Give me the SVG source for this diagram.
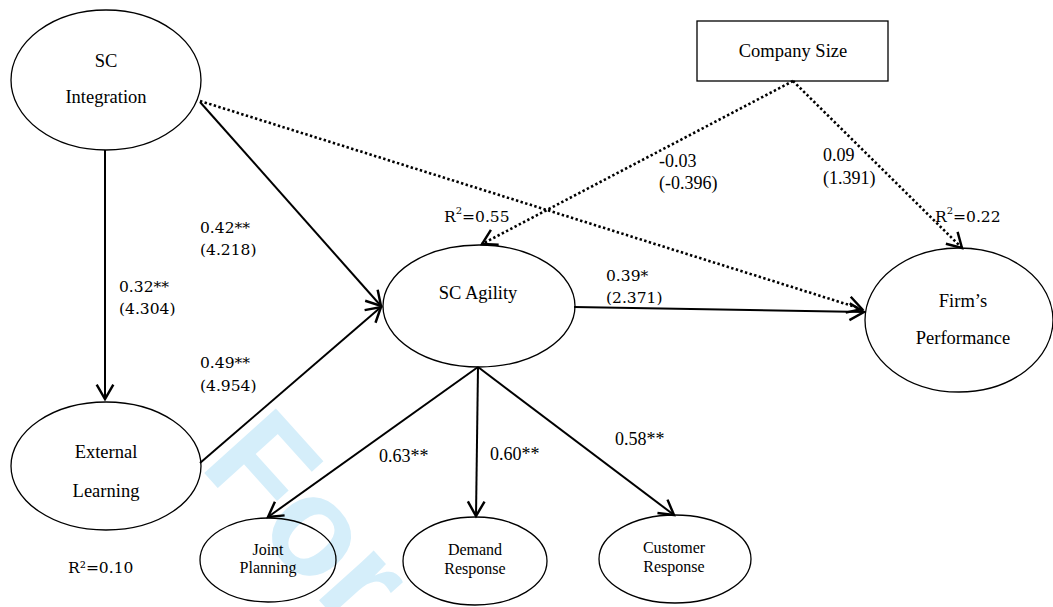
<svg xmlns="http://www.w3.org/2000/svg" width="1053" height="607" viewBox="0 0 1053 607">
<defs>
<style>
.node{fill:none;stroke:#000;stroke-width:1.3}
.t{font-family:"Liberation Serif","Times New Roman",serif;font-size:18.5px;fill:#000;text-anchor:middle}
.ts{font-family:"Liberation Serif","Times New Roman",serif;font-size:16px;fill:#000;text-anchor:middle}
.lt{font-family:"Liberation Serif","Times New Roman",serif;font-size:18px;fill:#000}
.lc{font-family:"DejaVu Serif",serif;font-size:15.5px;fill:#000}
.solid{fill:none;stroke:#000;stroke-width:2}
.dot{fill:none;stroke:#000;stroke-width:2.6;stroke-dasharray:2.4 2.4}
.wm{font-family:"Liberation Sans",Arial,sans-serif;font-weight:bold;font-size:140px;fill:#d5eefa}
</style>
<marker id="arr" markerUnits="userSpaceOnUse" markerWidth="20" markerHeight="20" viewBox="-14 -9 16 18" refX="0" refY="0" orient="auto">
<path d="M-13,-7.5 L0,0 L-13,7.5" fill="none" stroke="#000" stroke-width="2.2"/>
</marker>
</defs>
<rect width="1053" height="607" fill="#fff"/>
<text class="wm" transform="translate(198,466) rotate(48)">For</text>
<g id="connectors">
<line class="solid" x1="105" y1="150" x2="105" y2="399" marker-end="url(#arr)"/>
<line class="solid" x1="200" y1="102" x2="381" y2="306" marker-end="url(#arr)"/>
<line class="solid" x1="200" y1="463" x2="381" y2="307" marker-end="url(#arr)"/>
<line class="dot" x1="200" y1="101" x2="862" y2="309" marker-end="url(#arr)"/>
<line class="solid" x1="574" y1="307" x2="864" y2="312" marker-end="url(#arr)"/>
<line class="dot" x1="793" y1="81" x2="482" y2="244" marker-end="url(#arr)"/>
<line class="dot" x1="793" y1="81" x2="962" y2="248" marker-end="url(#arr)"/>
<line class="solid" x1="478" y1="367" x2="268" y2="517" marker-end="url(#arr)"/>
<line class="solid" x1="478" y1="367" x2="476" y2="516" marker-end="url(#arr)"/>
<line class="solid" x1="478" y1="367" x2="674" y2="515" marker-end="url(#arr)"/>
</g>
<g id="labels">
<text class="lc" x="200" y="233">0.42**</text>
<text class="lc" x="200" y="255">(4.218)</text>
<text class="lc" x="119" y="292">0.32**</text>
<text class="lc" x="119" y="314">(4.304)</text>
<text class="lc" x="200" y="368">0.49**</text>
<text class="lc" x="200" y="391">(4.954)</text>
<text class="lc" x="606" y="281">0.39*</text>
<text class="lc" x="606" y="303">(2.371)</text>
<text class="lt" x="659" y="167">-0.03</text>
<text class="lt" x="659" y="189">(-0.396)</text>
<text class="lt" x="823" y="161">0.09</text>
<text class="lt" x="823" y="184">(1.391)</text>
<text class="lc" x="444" y="222">R<tspan font-size="10" dy="-8">2</tspan><tspan dy="8">=0.55</tspan></text>
<text class="lc" x="935" y="222">R<tspan font-size="10" dy="-8">2</tspan><tspan dy="8">=0.22</tspan></text>
<text class="lc" x="68" y="573">R²=0.10</text>
<text class="lt" x="379" y="462">0.63**</text>
<text class="lt" x="490" y="460">0.60**</text>
<text class="lt" x="615" y="445">0.58**</text>
</g>
<g id="sc-integration">
<ellipse class="node" cx="106" cy="80" rx="95" ry="70"/>
<text class="t" x="106" y="67">SC</text>
<text class="t" x="106" y="103">Integration</text>
</g>
<g id="external-learning">
<ellipse class="node" cx="106" cy="466" rx="95" ry="64"/>
<text class="t" x="106" y="458">External</text>
<text class="t" x="106" y="497">Learning</text>
</g>
<g id="company-size">
<rect class="node" x="697" y="21" width="191" height="60"/>
<text class="t" x="793" y="57">Company Size</text>
</g>
<g id="sc-agility">
<ellipse class="node" cx="479" cy="306" rx="96" ry="61"/>
<text class="t" x="478" y="299">SC Agility</text>
</g>
<g id="firms-performance">
<ellipse class="node" cx="959" cy="320" rx="94" ry="72"/>
<text class="t" x="963" y="307">Firm’s</text>
<text class="t" x="963" y="344">Performance</text>
</g>
<g id="joint-planning">
<ellipse class="node" cx="268" cy="560" rx="68" ry="42"/>
<text class="ts" x="268" y="555">Joint</text>
<text class="ts" x="268" y="573">Planning</text>
</g>
<g id="demand-response">
<ellipse class="node" cx="475" cy="561" rx="72" ry="44"/>
<text class="ts" x="475" y="555">Demand</text>
<text class="ts" x="475" y="574">Response</text>
</g>
<g id="customer-response">
<ellipse class="node" cx="675" cy="559" rx="76" ry="44"/>
<text class="ts" x="674" y="553">Customer</text>
<text class="ts" x="674" y="572">Response</text>
</g>
</svg>
